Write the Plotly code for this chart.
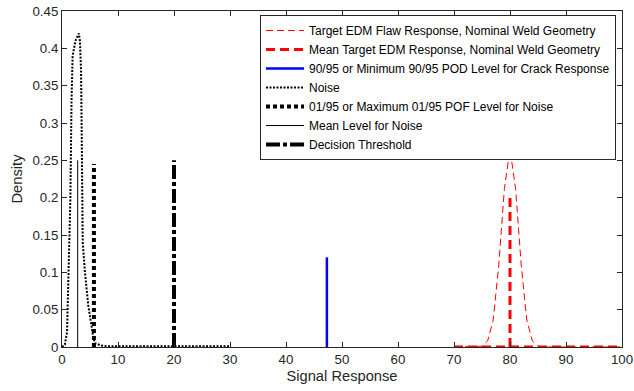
import plotly.graph_objects as go

# Target EDM flaw response distribution
edm_x = [70, 71, 72, 73, 74, 75, 76, 77, 78, 79, 80, 81, 82, 83, 84, 85, 86, 88, 90, 92, 94, 96, 98, 100]
edm_y = [0, 0, 0, 0, 0, 0.001, 0.008, 0.036, 0.11, 0.212, 0.265, 0.212, 0.11, 0.036, 0.008, 0.001, 0, 0, 0, 0, 0, 0, 0, 0]

# Mean target EDM response (baseline + vertical marker at 80)
mean_edm_x = [70, 100, None, 80, 80]
mean_edm_y = [0, 0, None, 0, 0.2]

# 90/95 POD level
pod_x = [47.3, 47.3]
pod_y = [0, 0.12]

# Noise distribution
noise_x = [0, 0.5, 0.9, 1.2, 1.5, 1.7, 1.9, 2.4, 3.0, 3.2, 3.4, 3.5, 3.6, 3.7, 4.1, 4.7, 5.3, 5.6, 5.9, 6.5, 7, 8, 10, 15, 20, 25, 30]
noise_y = [0, 0.003, 0.02, 0.1, 0.2, 0.33, 0.39, 0.41, 0.42, 0.41, 0.37, 0.3, 0.2, 0.14, 0.1, 0.055, 0.027, 0.012, 0.005, 0.003, 0.002, 0.001, 0.001, 0.001, 0.001, 0.001, 0.001]

# 01/95 POF level for noise
pof_x = [5.7, 5.7]
pof_y = [0, 0.245]

# Mean level for noise
mean_noise_x = [2.8, 2.8]
mean_noise_y = [0, 0.25]

# Decision threshold
thr_x = [20, 20]
thr_y = [0, 0.25]

FONT = "Arial, Liberation Sans, sans-serif"

fig = go.Figure()
fig.add_trace(go.Scatter(x=edm_x, y=edm_y, mode="lines",
                         name="Target EDM Flaw Response, Nominal Weld Geometry",
                         line=dict(color="#FF0000", width=1, dash="7px,4px")))
fig.add_trace(go.Scatter(x=mean_edm_x, y=mean_edm_y, mode="lines",
                         name="Mean Target EDM Response, Nominal Weld Geometry",
                         line=dict(color="#FF0000", width=3, dash="9px,5px")))
fig.add_trace(go.Scatter(x=pod_x, y=pod_y, mode="lines",
                         name="90/95 or Minimum 90/95 POD Level for Crack Response",
                         line=dict(color="#0000FF", width=2.5)))
fig.add_trace(go.Scatter(x=noise_x, y=noise_y, mode="lines",
                         name="Noise",
                         line=dict(color="#000000", width=2, dash="2px,1.5px")))
fig.add_trace(go.Scatter(x=pof_x, y=pof_y, mode="lines",
                         name="01/95 or Maximum 01/95 POF Level for Noise",
                         line=dict(color="#000000", width=4, dash="4px,3px")))
fig.add_trace(go.Scatter(x=mean_noise_x, y=mean_noise_y, mode="lines",
                         name="Mean Level for Noise",
                         line=dict(color="#000000", width=1)))
fig.add_trace(go.Scatter(x=thr_x, y=thr_y, mode="lines",
                         name="Decision Threshold",
                         line=dict(color="#000000", width=4, dash="14px,3px,4px,3px")))

axis_common = dict(showgrid=False, zeroline=False, showline=True, mirror="ticks",
                   linecolor="#262626", linewidth=1, ticks="inside", ticklen=5,
                   tickcolor="#262626", automargin=False, ticklabeloverflow="allow",
                   tickfont=dict(family=FONT, size=13.3, color="#262626"))

fig.update_layout(
    width=634, height=391,
    margin=dict(l=62, r=12, t=11, b=44),
    paper_bgcolor="white", plot_bgcolor="white",
    font=dict(family=FONT, color="#262626"),
    xaxis=dict(range=[0, 100], dtick=10, tick0=0,
               title=dict(text="Signal Response", font=dict(size=14.7), standoff=4), **axis_common),
    yaxis=dict(range=[0, 0.45], dtick=0.05, tick0=0,
               title=dict(text="Density", font=dict(size=14.7), standoff=6), **axis_common),
    legend=dict(x=0.9893, y=0.988, xanchor="right", yanchor="top",
                bgcolor="white", bordercolor="#262626", borderwidth=1,
                font=dict(family=FONT, size=12, color="#000000"), tracegroupgap=0,
                itemwidth=38),
    showlegend=True,
)

fig.write_html("out.html")
